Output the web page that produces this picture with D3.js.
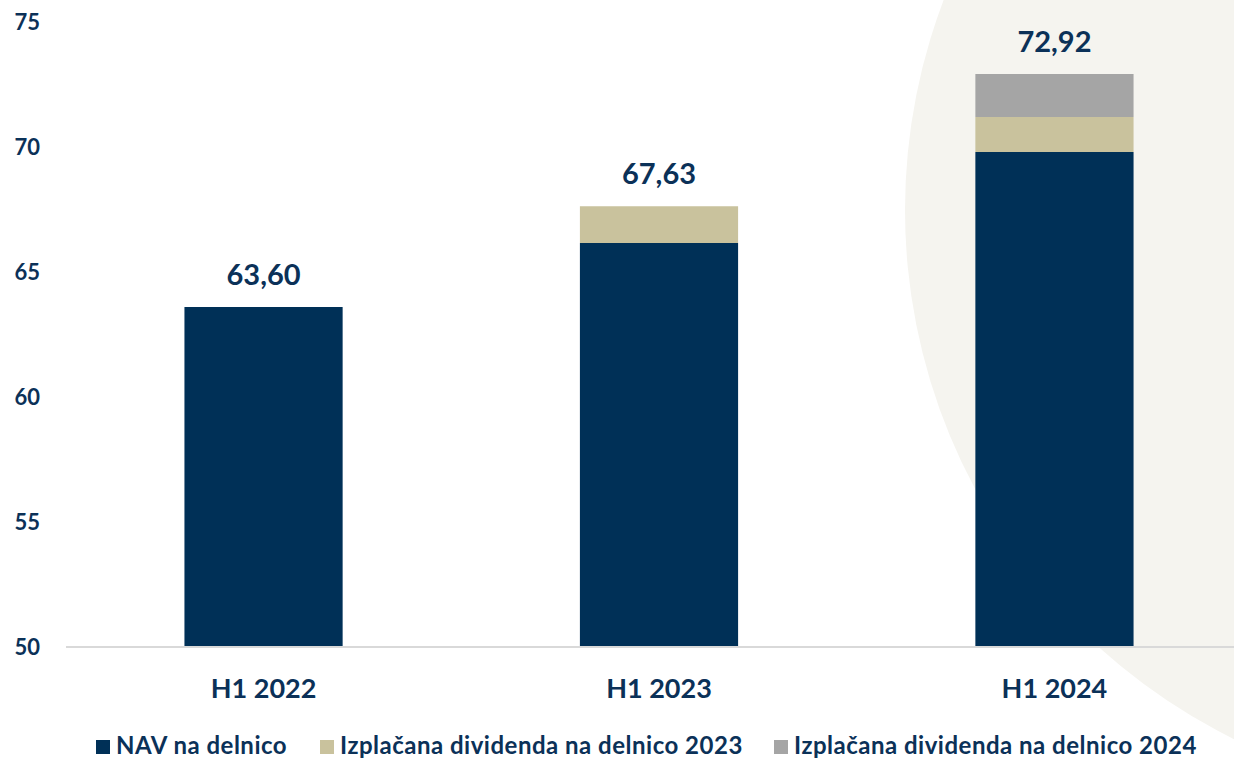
<!DOCTYPE html>
<html>
<head>
<meta charset="utf-8">
<script src="https://cdn.jsdelivr.net/npm/d3@7"></script>
<style>
  html, body { margin: 0; padding: 0; background: #fff; }
  svg { display: block; font-family: Lato, "Open Sans", sans-serif; font-weight: bold; }
</style>
</head>
<body>
<svg width="1234" height="759"></svg>
<script>
// data
const categories = ["H1 2022", "H1 2023", "H1 2024"];
const navValues = [63.60, 66.16, 69.80];
const div2023Values = [0, 1.47, 1.40];
const div2024Values = [0, 0, 1.72];
const totalLabels = ["63,60", "67,63", "72,92"];
const yTicks = [50, 55, 60, 65, 70, 75];
const seriesNames = ["NAV na delnico", "Izplačana dividenda na delnico 2023", "Izplačana dividenda na delnico 2024"];
const seriesColors = ["#003057", "#c9c29d", "#a5a5a5"];

let svg = d3.select("svg"),
	width = +svg.attr("width"),
	height = +svg.attr("height");

const textColor = "#0b3158";

// background decoration circle
svg.append("circle")
	.attr("cx", 1495)
	.attr("cy", 210)
	.attr("r", 590)
	.attr("fill", "#f5f4ef");

let x = d3.scaleBand()
	.domain(categories)
	.range([84, 1234])
	.paddingInner(0.6)
	.paddingOuter(0.254);

let y = d3.scaleLinear()
	.domain([50, 75])
	.range([647, 22]);

// stack the series
let rows = categories.map((c, i) => ({
	cat: c,
	nav: navValues[i],
	d23: div2023Values[i],
	d24: div2024Values[i]
}));
let stack = d3.stack().keys(["nav", "d23", "d24"]);
let layers = stack(rows);

svg.append("g")
	.selectAll("g")
	.data(layers)
	.enter().append("g")
		.attr("fill", (d, i) => seriesColors[i])
	.selectAll("rect")
	.data(d => d.filter(s => s[1] - s[0] > 0))
	.enter().append("rect")
		.attr("x", d => x(d.data.cat))
		.attr("width", x.bandwidth())
		.attr("y", d => y(d[1]))
		.attr("height", d => y(Math.max(d[0], 50)) - y(d[1]));

// axis line
svg.append("line")
	.attr("x1", 66)
	.attr("x2", width)
	.attr("y1", y(50))
	.attr("y2", y(50))
	.attr("stroke", "#d9d9d9")
	.attr("stroke-width", 2);

// y tick labels
svg.append("g")
	.selectAll("text")
	.data(yTicks)
	.enter().append("text")
		.attr("x", 40)
		.attr("y", d => y(d))
		.attr("dy", "0.36em")
		.attr("text-anchor", "end")
		.attr("font-size", 22)
		.attr("fill", textColor)
		.text(d => d);

// category labels
svg.append("g")
	.selectAll("text")
	.data(categories)
	.enter().append("text")
		.attr("x", d => x(d) + x.bandwidth() / 2)
		.attr("y", 698)
		.attr("text-anchor", "middle")
		.attr("font-size", 27)
		.attr("fill", textColor)
		.text(d => d);

// total labels
svg.append("g")
	.selectAll("text")
	.data(rows)
	.enter().append("text")
		.attr("x", d => x(d.cat) + x.bandwidth() / 2)
		.attr("y", d => y(d.nav + d.d23 + d.d24) - 22)
		.attr("text-anchor", "middle")
		.attr("font-size", 29)
		.attr("fill", textColor)
		.text((d, i) => totalLabels[i]);

// legend
const legendX = [96, 320, 774];
let legend = svg.append("g")
	.selectAll("g")
	.data(seriesNames)
	.enter().append("g")
		.attr("transform", (d, i) => "translate(" + legendX[i] + ",740)");
legend.append("rect")
	.attr("width", 14)
	.attr("height", 14)
	.attr("fill", (d, i) => seriesColors[i]);
legend.append("text")
	.attr("x", 20)
	.attr("y", 14)
	.attr("font-size", 24)
	.attr("letter-spacing", 0.5)
	.attr("fill", textColor)
	.text(d => d);
</script>
</body>
</html>
